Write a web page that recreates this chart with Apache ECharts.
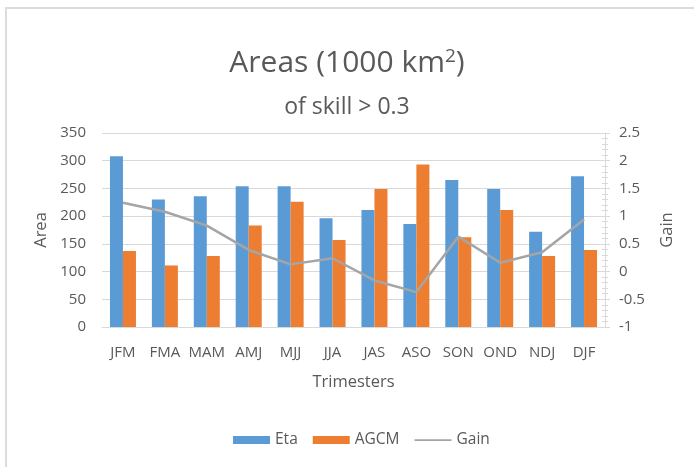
<!DOCTYPE html>
<html><head><meta charset="utf-8">
<script src="https://cdn.jsdelivr.net/npm/echarts@6/dist/echarts.min.js"></script>
<style>
html,body{margin:0;padding:0;background:#fff;overflow:hidden}
#c{position:absolute;left:0;top:0;width:694px;height:467px}
#frame{position:absolute;left:5px;top:7px;width:720px;height:500px;border-top:2px solid #dcdcdc;border-left:2px solid #dcdcdc;pointer-events:none}
</style></head>
<body>
<div id="c"></div><div id="frame"></div>
<script>
const categories = ['JFM','FMA','MAM','AMJ','MJJ','JJA','JAS','ASO','SON','OND','NDJ','DJF'];
const eta  = [308, 230, 236, 254, 254, 196, 211, 186, 265, 249, 172, 272];
const agcm = [137, 111, 128, 183, 226, 157, 249, 293, 162, 211, 128, 139];
const gain = [1.24, 1.08, 0.83, 0.39, 0.13, 0.24, -0.16, -0.37, 0.63, 0.16, 0.35, 0.94];

const txt = '#595959';
const font = 'Open Sans';
const chart = echarts.init(document.getElementById('c'));
chart.setOption({
  animation:false,
  backgroundColor:'#fff',
  textStyle:{fontFamily:font,color:txt},
  title:[
    {text:'Areas (1000 km{s|2})',left:'center',top:42,
     textStyle:{fontFamily:font,fontSize:30,fontWeight:'normal',color:txt,
       rich:{s:{fontFamily:font,fontSize:19,color:txt,verticalAlign:'top',padding:[0,0,13,0]}}}},
    {text:'of skill > 0.3',left:'center',top:91,
     textStyle:{fontFamily:font,fontSize:23,fontWeight:'normal',color:txt}}
  ],
  legend:{bottom:14,left:228,itemWidth:37,itemHeight:8,itemGap:15,
    textStyle:{fontFamily:font,fontSize:15.5,color:txt},
    data:[{name:'Eta',icon:'rect'},{name:'AGCM',icon:'rect'},
      {name:'Gain',icon:'path://M0,0h0.01v0.01h-0.01z M0,3.3h37v1.6h-37z M0,8h0.01v0.01h-0.01z',
       itemStyle:{color:'#a5a5a5'}}]},
  grid:{left:102,right:89,top:133,bottom:140},
  xAxis:{type:'category',data:categories,
    name:'Trimesters',nameLocation:'middle',nameGap:47,
    nameTextStyle:{fontFamily:font,fontSize:16.5,color:txt},
    axisLine:{lineStyle:{color:'#d9d9d9'}},axisTick:{show:false},
    axisLabel:{fontFamily:font,fontSize:15,color:txt,margin:18,interval:0,hideOverlap:false}},
  yAxis:[
    {type:'value',min:0,max:350,interval:50,name:'Area',nameLocation:'middle',nameGap:51,
     nameRotate:90,nameTextStyle:{fontFamily:font,fontSize:16.5,color:txt},
     axisLabel:{fontFamily:font,fontSize:15,color:txt,margin:16},
     axisLine:{show:false},axisTick:{show:false},
     splitLine:{lineStyle:{color:'#d9d9d9',width:1}}},
    {type:'value',min:-1,max:2.5,interval:0.5,position:'right',name:'Gain',nameLocation:'middle',
     nameGap:54,nameRotate:90,nameTextStyle:{fontFamily:font,fontSize:16.5,color:txt},
     axisLabel:{fontFamily:font,fontSize:15,color:txt,margin:14},
     axisLine:{show:true,lineStyle:{color:'#d9d9d9'}},
     axisTick:{show:true,length:5,lineStyle:{color:'#d9d9d9'}},
     minorTick:{show:true,splitNumber:5,length:3,lineStyle:{color:'#d9d9d9'}},
     splitLine:{show:false}},
    {type:'value',min:-1,max:2.5,interval:0.5,position:'right',
     axisLabel:{show:false},axisLine:{show:false},
     axisTick:{show:true,inside:true,length:4,lineStyle:{color:'#d9d9d9'}},
     minorTick:{show:true,splitNumber:5,length:3,lineStyle:{color:'#d9d9d9'}},
     splitLine:{show:false}}
  ],
  series:[
    {name:'Eta',type:'bar',data:eta,barWidth:13,barGap:'0%',itemStyle:{color:'#5b9bd5'}},
    {name:'AGCM',type:'bar',data:agcm,barWidth:13,barGap:'0%',itemStyle:{color:'#ed7d31'}},
    {name:'Gain',type:'line',yAxisIndex:1,data:gain,symbol:'none',
     lineStyle:{color:'#a5a5a5',width:2.5},itemStyle:{color:'#a5a5a5'}}
  ]
});
</script>
</body></html>
